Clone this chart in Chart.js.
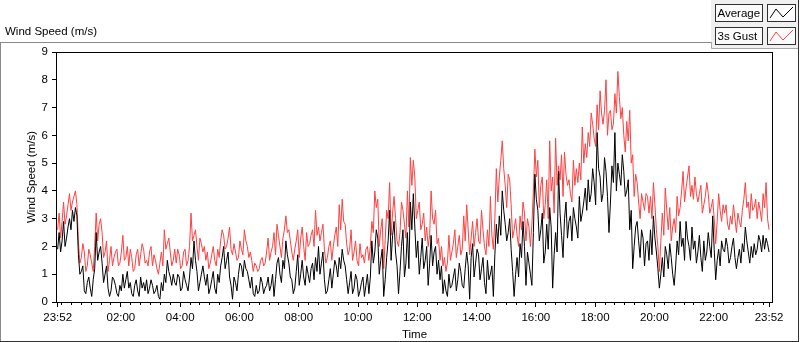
<!DOCTYPE html>
<html>
<head>
<meta charset="utf-8">
<script src="https://cdn.jsdelivr.net/npm/chart.js@4.4.0/dist/chart.umd.min.js"></script>
<style>
  html, body { margin: 0; padding: 0; background: #fff; overflow: hidden; }
  #wrap { width: 800px; height: 342px; position: relative; }
</style>
</head>
<body>
<div id="wrap"><canvas id="wind"></canvas></div>
<script>
// time axis: minutes after 23:52, one sample every 3 minutes
const startClock = 23 * 60 + 52;
const spanMin = 1440;
const stepMin = 3;
const startLabel = '23:52';

// wind speed (m/s)
const average = [
  1.9,2.5,1.8,2.2,2.9,2.0,2.3,2.7,3.0,2.6, 3.3,2.9,3.4,3.1,1.7,1.0,1.1,1.3,0.4,0.3,
  0.7,0.9,0.5,0.2,0.8,1.2,2.5,1.5,1.8,2.0, 1.4,0.7,1.0,1.3,0.5,0.2,0.4,0.9,0.8,0.6,
  0.3,0.2,0.6,0.4,1.0,0.5,0.8,1.1,0.5,0.7, 0.3,0.2,0.6,0.8,0.4,0.2,0.9,0.5,0.7,0.4,
  0.8,0.3,0.5,0.8,0.6,0.3,0.4,0.6,0.2,0.1, 0.7,0.4,1.0,0.7,1.5,1.1,0.9,0.6,1.0,0.7,
  0.6,1.0,0.9,0.4,0.5,1.1,0.8,0.6,0.4,0.9, 1.6,1.2,2.2,1.5,1.1,0.4,0.7,1.0,1.3,0.9,
  0.6,1.0,0.3,0.5,0.8,1.1,0.5,0.3,1.0,0.7, 1.3,1.6,2.0,1.2,1.5,1.8,0.9,0.6,0.1,0.9,
  0.7,0.4,1.0,1.4,1.3,0.9,1.5,1.2,1.1,0.8, 0.5,0.9,0.3,0.2,0.6,0.3,0.4,0.9,0.7,0.3,
  0.5,0.6,0.9,0.4,0.6,1.0,0.2,0.8,1.4,1.6, 1.0,0.7,1.5,1.2,2.2,1.7,1.4,0.9,0.8,0.3,
  0.5,1.1,1.7,0.6,1.0,1.5,0.9,0.6,1.3,1.0, 0.7,1.2,1.4,0.8,1.6,1.1,2.0,1.0,1.4,1.8,
  0.8,0.3,0.4,0.8,1.2,0.5,1.0,1.5,1.3,0.9, 1.6,1.2,1.9,1.5,1.3,0.8,0.3,0.7,1.1,0.3,
  0.5,1.0,0.8,0.2,0.4,0.7,0.9,0.2,0.6,1.0, 0.3,0.9,2.2,1.4,1.8,2.6,2.3,1.0,1.5,1.9,
  0.2,0.8,1.6,2.2,3.3,1.5,2.4,2.9,1.8,1.3, 0.3,1.1,2.0,2.6,0.9,1.4,2.5,1.2,3.6,2.6,
  3.9,2.7,1.6,2.2,1.0,1.6,2.3,1.2,1.5,2.0, 0.6,1.4,2.4,1.3,1.8,2.0,1.0,1.5,0.8,1.3,
  0.3,0.8,0.4,0.2,1.0,0.5,0.6,0.9,1.2,0.4, 0.8,1.4,1.1,0.6,0.5,1.2,1.8,1.3,0.1,1.6,
  2.1,0.9,1.4,1.9,1.7,0.8,1.2,1.6,0.7,0.3, 1.5,0.8,1.0,1.3,0.2,1.7,2.8,2.1,3.1,2.4,
  4.0,3.3,2.8,2.2,2.5,3.0,1.9,1.1,0.2,1.0, 1.6,0.9,2.1,1.6,2.9,2.0,0.6,1.8,1.4,1.0,
  0.6,2.5,4.6,3.7,3.3,2.2,2.6,3.2,1.4,1.8, 2.8,1.9,3.4,2.7,0.5,1.7,2.5,1.8,4.7,3.2,
  2.4,1.6,3.0,3.6,2.3,2.9,3.1,2.2,3.4,3.0, 2.7,2.3,3.8,2.9,3.2,3.6,4.1,3.3,4.4,3.6,
  3.9,4.8,4.3,3.5,6.1,4.8,4.5,3.6,3.9,5.2, 4.7,3.8,2.5,3.6,4.9,4.3,6.1,4.0,5.0,4.6,
  4.2,5.3,4.7,3.8,4.0,4.4,2.6,3.3,1.2,2.0, 2.7,2.9,2.2,1.6,2.6,2.3,1.3,2.1,2.2,1.5,
  2.6,1.7,3.1,2.3,1.8,1.2,0.5,1.0,1.6,0.9, 2.0,1.7,1.2,2.1,1.6,1.0,0.6,1.3,2.2,1.7,
  2.9,2.0,2.3,1.5,2.9,2.3,2.0,1.5,2.7,1.9, 2.2,1.4,1.8,2.4,1.6,1.1,2.2,1.5,1.8,2.5,
  2.0,1.6,3.1,1.9,0.8,1.5,1.9,1.3,2.2,1.9, 1.8,2.3,2.0,1.4,1.6,2.0,2.3,1.6,1.2,1.6,
  1.9,1.4,2.1,1.8,2.7,2.2,1.8,1.4,2.0,1.6, 2.1,1.7,1.9,2.4,2.2,1.8,2.4,1.9,2.3,2.1,
  1.8
];
const gust = [
  2.6,3.2,2.3,2.9,3.6,2.8,3.1,3.5,3.9,3.3, 3.6,3.8,4.0,3.5,2.2,1.4,1.6,2.1,1.8,1.1,
  1.3,1.9,1.7,1.4,1.1,2.0,3.2,2.2,2.8,3.0, 2.5,1.6,1.8,2.2,1.1,1.5,2.0,1.3,1.6,1.8,
  1.9,1.3,1.4,1.8,2.4,1.5,1.6,2.0,1.3,1.9, 1.6,1.1,1.2,1.7,1.9,1.3,1.7,2.1,1.9,1.4,
  1.5,1.3,1.8,2.0,1.3,1.7,1.5,1.2,1.0,1.4, 1.8,1.3,2.6,1.9,2.1,2.3,1.8,1.3,1.5,1.9,
  1.4,1.9,1.7,1.2,1.3,1.8,1.9,1.3,1.5,2.0, 3.2,2.2,2.4,2.6,2.0,1.5,2.3,2.1,1.8,2.0,
  1.5,1.8,1.2,1.4,1.7,2.0,1.5,1.3,1.9,1.6, 2.2,2.6,2.4,1.9,2.0,2.3,2.7,1.9,1.7,2.1,
  1.8,1.5,1.6,2.2,1.9,1.7,2.6,2.2,2.0,1.6, 1.8,1.5,1.1,1.4,1.3,1.1,1.2,1.5,1.6,1.3,
  1.4,1.8,2.3,1.5,1.8,2.0,2.5,1.7,2.8,2.4, 2.0,1.6,2.3,2.6,3.1,2.5,2.6,2.2,1.8,1.5,
  1.9,2.2,2.6,1.6,2.3,2.7,2.0,1.5,2.5,2.0, 2.1,2.4,2.6,2.0,3.3,2.4,2.7,2.2,2.5,2.8,
  1.9,1.4,1.6,2.0,2.2,1.5,2.0,2.4,2.7,2.0, 3.5,2.6,3.7,2.9,2.8,2.1,1.7,1.9,2.6,1.5,
  1.8,2.2,1.5,1.3,2.1,1.6,1.7,1.4,1.9,2.0, 1.5,2.0,2.9,2.5,4.0,3.4,3.7,2.0,2.6,3.0,
  1.2,2.2,3.3,3.0,4.3,2.4,3.2,3.8,3.0,2.2, 2.0,2.5,3.6,3.3,2.8,2.3,4.0,2.7,5.2,4.2,
  5.1,4.5,3.0,3.3,3.6,2.6,2.8,3.2,2.2,2.7, 2.0,2.4,4.0,3.0,2.8,3.3,2.1,2.3,1.5,2.0,
  1.3,1.6,1.1,1.4,2.4,1.5,1.8,2.1,2.6,1.6, 2.0,2.4,1.7,1.9,3.1,2.2,3.5,2.6,1.7,2.3,
  2.9,2.0,2.5,3.0,2.2,2.1,3.3,2.6,2.0,1.7, 2.6,2.0,3.8,2.4,1.9,3.0,4.8,3.6,4.5,5.1,
  5.8,4.8,4.2,3.4,4.6,4.4,3.5,2.3,2.6,3.0, 2.4,2.0,3.1,2.6,3.6,3.2,2.2,3.0,2.7,2.0,
  2.8,4.0,5.5,4.5,5.1,3.4,4.2,4.5,3.0,3.5, 4.4,3.0,5.8,4.0,4.5,3.2,5.9,4.2,4.9,4.4,
  5.3,3.8,5.4,4.6,4.2,4.4,3.9,3.6,5.1,4.2, 4.8,4.3,5.0,4.4,6.3,5.0,5.7,5.2,6.1,5.6,
  6.8,6.4,5.9,5.6,7.1,6.2,7.6,6.8,6.4,6.9, 8.0,6.0,6.8,6.9,6.2,6.4,7.5,6.8,8.3,7.4,
  6.6,7.0,6.0,5.4,6.5,5.8,6.9,5.0,5.3,3.8, 4.6,4.3,3.6,3.0,3.9,3.6,3.3,3.9,3.8,3.2,
  3.8,3.0,4.3,3.5,2.6,2.0,1.1,2.2,3.2,2.4, 4.1,3.3,2.6,3.4,2.2,2.7,3.0,2.5,3.8,3.1,
  3.4,4.0,4.7,3.6,4.1,4.5,4.9,3.8,4.2,3.7, 4.5,3.9,3.6,3.9,4.2,3.2,3.5,3.8,4.3,3.9,
  3.2,3.4,3.7,3.0,2.1,2.9,3.9,3.3,2.9,3.5, 3.2,3.5,2.8,2.6,3.1,2.8,3.5,3.0,2.5,3.2,
  2.9,2.7,3.3,3.7,4.3,3.4,3.6,3.0,3.9,3.3, 3.4,3.7,3.0,3.6,3.3,2.9,3.9,3.4,4.3,3.0,
  2.6
];
const minutes = average.map((_, i) => i * stepMin);

const yTicks = [0, 1, 2, 3, 4, 5, 6, 7, 8, 9];
const seriesNames = ['Average', '3s Gust'];
const seriesColors = ['#000000', '#ff4040'];

const FONT = "'Liberation Sans', Arial, sans-serif";
const FSIZE = 11.5;

// minute offset -> "HH:MM"
function clockLabel(m) {
  if (m <= 0 || m >= spanMin) return startLabel;
  const c = (startClock + m) % 1440;
  return String(Math.floor(c / 60)).padStart(2, '0') + ':' + String(c % 60).padStart(2, '0');
}
// 2-hour marks between the end points (02:00 ... 22:00)
function majorTicks() {
  const t = [0];
  for (let m = 0; m <= spanMin; m++) {
    if ((startClock + m) % 120 === 0 && m > 60 && m < spanMin - 60) t.push(m);
  }
  t.push(spanMin);
  return t;
}
function minorTicks() {
  const t = [];
  for (let m = 0; m <= spanMin; m++) if ((startClock + m) % 20 === 0) t.push(m);
  return t;
}

// frame, panel title and the legend boxes drawn round the plot
const decor = {
  id: 'decor',
  beforeDraw(chart) {
    const ctx = chart.ctx;
    ctx.save();
    ctx.fillStyle = '#fff';
    ctx.fillRect(0, 0, chart.width, chart.height);
    ctx.strokeStyle = '#8a8a8a';
    ctx.lineWidth = 1;
    ctx.beginPath();
    ctx.moveTo(0, 42.5); ctx.lineTo(712, 42.5);
    ctx.moveTo(0.5, 42); ctx.lineTo(0.5, 342);
    ctx.stroke();
    ctx.strokeStyle = '#333';
    ctx.beginPath();
    ctx.moveTo(0, 341.5); ctx.lineTo(799, 341.5);
    ctx.moveTo(798.5, 0); ctx.lineTo(798.5, 342);
    ctx.stroke();
    ctx.fillStyle = '#000';
    ctx.font = FSIZE + 'px ' + FONT;
    ctx.textBaseline = 'middle';
    ctx.fillText('Wind Speed (m/s)', 5, 32);

    // legend panel
    ctx.fillStyle = '#f0f0f0';
    ctx.fillRect(711, 0, 87, 48);
    ctx.strokeStyle = '#a8a8a8';
    ctx.beginPath();
    ctx.moveTo(711.5, 42); ctx.lineTo(711.5, 48.5); ctx.lineTo(798, 48.5);
    ctx.stroke();
    seriesNames.forEach((name, k) => {
      const y0 = 4 + k * 23;
      ctx.fillStyle = '#fbfbfb';
      ctx.fillRect(715, y0, 47, 17);
      ctx.fillRect(767, y0, 28, 17);
      ctx.strokeStyle = '#303030';
      ctx.strokeRect(715.5, y0 + 0.5, 47, 17);
      ctx.strokeRect(767.5, y0 + 0.5, 28, 17);
      ctx.fillStyle = '#000';
      ctx.fillText(name, 717.5, y0 + 9.5);
      ctx.strokeStyle = seriesColors[k];
      ctx.beginPath();
      ctx.moveTo(770, y0 + 14); ctx.lineTo(776, y0 + 5);
      ctx.lineTo(783, y0 + 13); ctx.lineTo(793, y0 + 3);
      ctx.stroke();
    });
    ctx.restore();
  },
  afterDatasetsDraw(chart) {
    const a = chart.chartArea, ctx = chart.ctx;
    ctx.save();
    ctx.strokeStyle = '#000';
    ctx.lineWidth = 1;
    ctx.strokeRect(Math.round(a.left) - 0.5, Math.round(a.top) + 0.5,
      Math.round(a.right - a.left) + 1, Math.round(a.bottom - a.top));
    ctx.restore();
  }
};

const ctx = document.getElementById('wind').getContext('2d');
new Chart(ctx, {
  type: 'line',
  data: {
    datasets: [
      { label: seriesNames[0], data: average.map((v, i) => ({ x: minutes[i], y: v })),
        borderColor: seriesColors[0] },
      { label: seriesNames[1], data: gust.map((v, i) => ({ x: minutes[i], y: v })),
        borderColor: seriesColors[1] }
    ]
  },
  options: {
    responsive: true,
    maintainAspectRatio: false,
    animation: false,
    devicePixelRatio: 1,
    layout: { padding: { left: 0, top: 52, right: 28, bottom: 0 } },
    elements: {
      point: { radius: 0 },
      line: { borderWidth: 1, tension: 0 }
    },
    plugins: { legend: { display: false }, tooltip: { enabled: false } },
    scales: {
      xMinor: {
        type: 'linear', position: 'bottom', weight: 0,
        min: -1.3, max: 1446,
        afterBuildTicks: (s) => { s.ticks = minorTicks().map(v => ({ value: v })); },
        afterFit: (s) => { s.height = 0; },
        ticks: { display: false },
        grid: { drawOnChartArea: false, drawTicks: true, tickLength: 3, color: '#000' },
        border: { display: false }
      },
      x: {
        type: 'linear', position: 'bottom', weight: 1,
        min: -1.3, max: 1446,
        afterBuildTicks: (s) => { s.ticks = majorTicks().map(v => ({ value: v })); },
        afterFit: (s) => { s.height = 40; },
        ticks: {
          callback: (v) => clockLabel(v),
          autoSkip: false, maxRotation: 0, padding: 4,
          color: '#000', font: { family: FONT, size: FSIZE }
        },
        grid: { drawOnChartArea: false, drawTicks: true, tickLength: 5, color: '#000' },
        border: { display: false },
        title: { display: true, text: 'Time', color: '#000',
          font: { family: FONT, size: FSIZE }, padding: { top: 0, bottom: 0 } }
      },
      y: {
        min: 0, max: 9,
        afterBuildTicks: (s) => { s.ticks = yTicks.map(v => ({ value: v })); },
        afterFit: (s) => { s.width = 57; },
        ticks: { padding: 4, color: '#000', font: { family: FONT, size: FSIZE } },
        grid: { drawOnChartArea: false, drawTicks: true, tickLength: 5, color: '#000' },
        border: { display: false },
        title: { display: true, text: 'Wind Speed (m/s)', color: '#000',
          font: { family: FONT, size: FSIZE }, padding: { top: 25, bottom: 0 } }
      }
    }
  },
  plugins: [decor]
});
</script>
</body>
</html>
